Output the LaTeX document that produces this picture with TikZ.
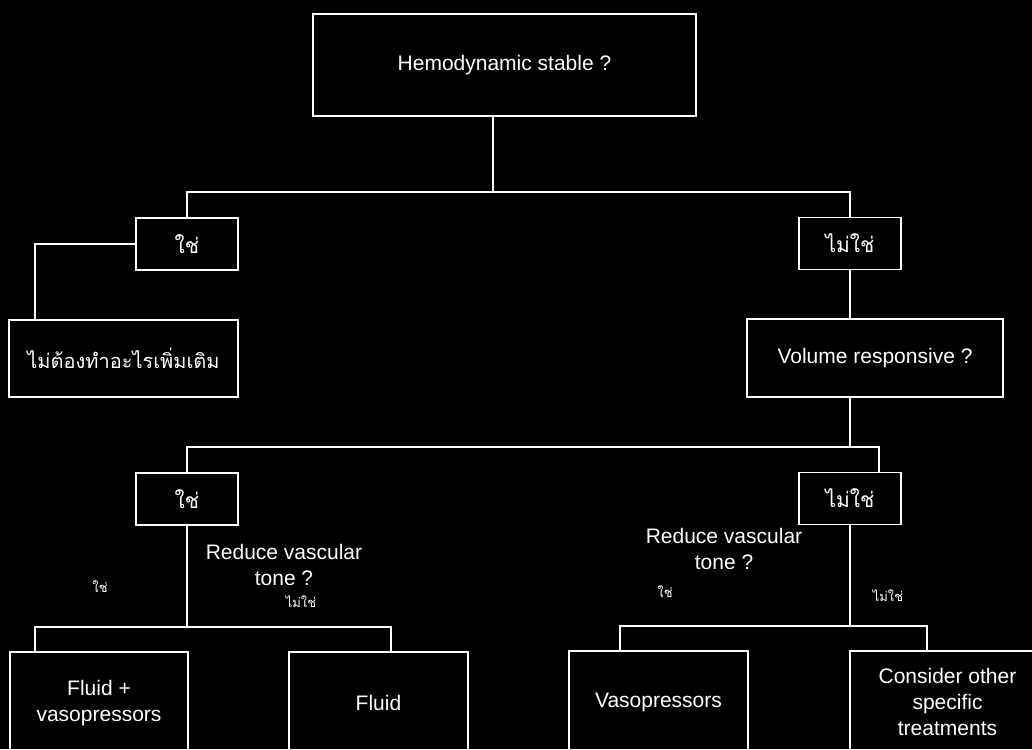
\documentclass[tikz,border=0pt]{standalone}
\usepackage{fontspec}
\setmainfont{Liberation Sans}
\newfontfamily\thaifont[Script=Thai]{Loma}
\usetikzlibrary{positioning}
\begin{document}
\begin{tikzpicture}[x=1pt, y=-1pt,
  box/.style={draw=white!85, line width=1.2pt, text=white, align=center,
    inner sep=0pt, font=\fontsize{21}{26}\selectfont},
  ansbox/.style={box, minimum width=102pt, minimum height=52pt,
    font=\thaifont\fontsize{21}{26}\selectfont},
  link/.style={draw=white!85, line width=1.2pt},
  question/.style={text=white, align=center, font=\fontsize{21}{26}\selectfont},
  ans/.style={text=white, font=\thaifont\fontsize{13}{16}\selectfont}]
\fill[black] (0,0) rectangle (1032,749);
\clip (0,0) rectangle (1032,749);

\node (HS) [box, minimum width=383pt, minimum height=102pt] at (504.5,65) {Hemodynamic stable ?};
\node (Yes1) [ansbox] at (187,244) {ใช่};
\node (No1) [ansbox] at (850,243.5) {ไม่ใช่};
\node (Stop) [box, minimum width=229pt, minimum height=77pt,
  font=\thaifont\fontsize{20}{24}\selectfont] at (123.5,358.5) {ไม่ต้องทำอะไรเพิ่มเติม};
\node (VR) [box, minimum width=256pt, minimum height=78pt] at (875,358) {Volume responsive ?};
\node (Yes2) [ansbox] at (187,499) {ใช่};
\node (No2) [ansbox] at (850,498.5) {ไม่ใช่};

\node (RVTa) [question] at (284,565) {Reduce vascular\\tone ?};
\node (RVTb) [question] at (724,549) {Reduce vascular\\tone ?};
\node (YesA) [ans] at (100,587) {ใช่};
\node (NoA) [ans] at (301,602) {ไม่ใช่};
\node (YesB) [ans] at (665,592) {ใช่};
\node (NoB) [ans] at (888,596) {ไม่ใช่};

\node (FV) [box, minimum width=178pt, minimum height=102pt] at (99,703) {Fluid +\\vasopressors};
\node (FL) [box, minimum width=179pt, minimum height=102pt] at (378.5,703) {Fluid};
\node (VP) [box, minimum width=179pt, minimum height=102pt] at (658.5,702) {Vasopressors};
\node (CO) [box, minimum width=195pt, minimum height=102pt] at (947.5,702) {Consider other\\specific\\treatments};

% first split
\coordinate (J1) at (493,192);
\draw[link] (HS.south -| J1) -- (J1);
\draw[link] (Yes1.north) |- (J1) -| (No1.north);
\coordinate (C1) at (35,244);
\draw[link] (Yes1.west) -- (C1) -- (C1 |- Stop.north);
\draw[link] (No1.south) -- (No1.south |- VR.north);

% second split
\coordinate (J2) at (850,447);
\coordinate (C2) at (879,447);
\draw[link] (VR.south -| J2) -- (J2);
\draw[link] (Yes2.north) |- (C2) -- (C2 |- No2.north);

% treatments
\coordinate (J3) at (187,627);
\coordinate (C3l) at (35,627);
\coordinate (C3r) at (391,627);
\draw[link] (Yes2.south) -- (J3);
\draw[link] (C3l |- FV.north) -- (C3l) -- (C3r) -- (C3r |- FL.north);
\coordinate (J4) at (850,626);
\coordinate (C4l) at (620,626);
\coordinate (C4r) at (927,626);
\draw[link] (No2.south) -- (J4);
\draw[link] (C4l |- VP.north) -- (C4l) -- (C4r) -- (C4r |- CO.north);
\end{tikzpicture}
\end{document}
